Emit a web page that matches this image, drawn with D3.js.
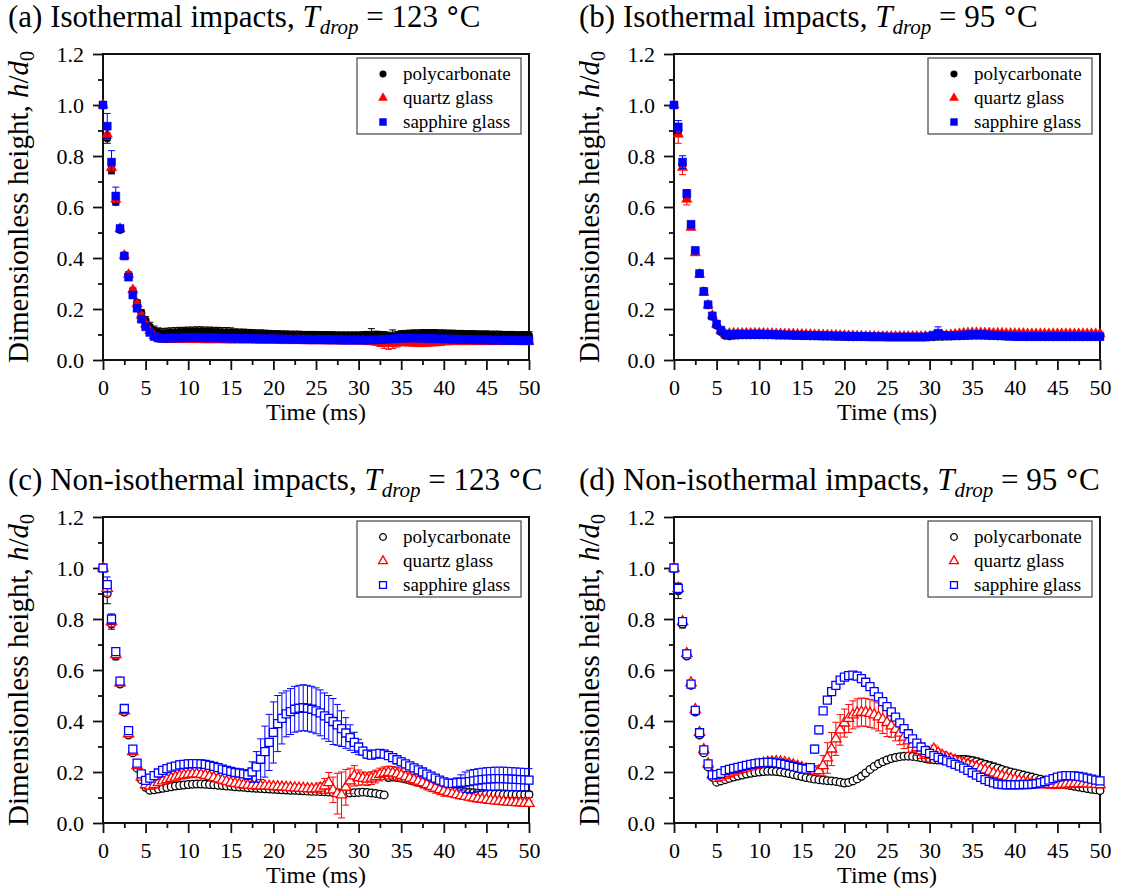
<!DOCTYPE html>
<html>
<head>
<meta charset="utf-8">
<script src="https://cdn.jsdelivr.net/npm/d3@7"></script>
<style>
  body { margin: 0; background: #fff; }
  svg { display: block; }
  text { font-family: "Liberation Serif", "Times New Roman", serif; fill: #000; }
</style>
</head>
<body>
<svg id="chart"></svg>
<script>
const width = 1121;
const height = 894;

// time grid (ms)
const time = [0,0.5,1,1.5,2,2.5,3,3.5,4,4.5,5,5.5,6,6.5,7,7.5,8,8.5,9,9.5,10,
  10.5,11,11.5,12,12.5,13,13.5,14,14.5,15,15.5,16,16.5,17,17.5,18,18.5,19,19.5,20,
  20.5,21,21.5,22,22.5,23,23.5,24,24.5,25,25.5,26,26.5,27,27.5,28,28.5,29,29.5,30,
  30.5,31,31.5,32,32.5,33,33.5,34,34.5,35,35.5,36,36.5,37,37.5,38,38.5,39,39.5,40,
  40.5,41,41.5,42,42.5,43,43.5,44,44.5,45,45.5,46,46.5,47,47.5,48,48.5,49,49.5,50];

const seriesNames = ["polycarbonate", "quartz glass", "sapphire glass"];
const seriesColors = ["#000000", "#ff0000", "#0000ff"];

const xMajorTicks = [0,5,10,15,20,25,30,35,40,45,50];
const xMinorTicks = [2.5,7.5,12.5,17.5,22.5,27.5,32.5,37.5,42.5,47.5];
const yMajorTicks = [0,0.2,0.4,0.6,0.8,1.0,1.2];
const yMinorTicks = [0.1,0.3,0.5,0.7,0.9,1.1];

// (a) isothermal, 123 C
const aPc = [1.0,0.87,0.745,0.62,0.51,0.41,0.335,0.27,0.225,0.185,0.155,
  0.13,0.115,0.108,0.105,0.107,0.108,0.109,0.11,0.11,0.111,
  0.111,0.112,0.112,0.111,0.111,0.11,0.11,0.109,0.109,0.108,
  0.107,0.106,0.106,0.105,0.104,0.103,0.103,0.102,0.101,0.1,
  0.1,0.099,0.099,0.098,0.098,0.098,0.097,0.097,0.097,0.097,
  0.096,0.096,0.096,0.096,0.095,0.095,0.095,0.095,0.095,0.095,
  0.096,0.097,0.098,0.098,0.097,0.096,0.094,0.093,0.096,0.1,
  0.101,0.102,0.103,0.103,0.104,0.104,0.104,0.104,0.103,0.103,
  0.102,0.102,0.101,0.101,0.1,0.1,0.1,0.099,0.099,0.099,
  0.098,0.098,0.098,0.097,0.097,0.097,0.096,0.096,0.096,0.096];
const aPcErr = [0,0.02,0.015,0.012,0.01,0.01,0.01,0.01,0.01,0.012,0.015,
  0.018,0.018,0.018,0.018,0.018,0.018,0.018,0.018,0.018,0.018,
  0.018,0.018,0.018,0.018,0.018,0.018,0.018,0.018,0.018,0.018,
  0.015,0.015,0.015,0.015,0.015,0.015,0.015,0.015,0.015,0.015,
  0.015,0.015,0.015,0.015,0.015,0.015,0.015,0.015,0.015,0.015,
  0.015,0.015,0.015,0.015,0.015,0.015,0.015,0.015,0.015,0.015,
  0.015,0.015,0.025,0.015,0.015,0.015,0.015,0.025,0.015,0.015,
  0.015,0.015,0.015,0.015,0.015,0.015,0.015,0.015,0.015,0.015,
  0.015,0.015,0.015,0.015,0.015,0.015,0.015,0.015,0.015,0.015,
  0.015,0.015,0.015,0.015,0.015,0.015,0.015,0.015,0.015,0.015];
const aQg = [1.0,0.885,0.755,0.63,0.515,0.41,0.335,0.275,0.22,0.175,0.14,
  0.115,0.095,0.085,0.08,0.08,0.08,0.08,0.08,0.08,0.08,
  0.08,0.08,0.08,0.079,0.079,0.079,0.079,0.079,0.078,0.078,
  0.078,0.078,0.078,0.078,0.078,0.077,0.077,0.077,0.077,0.077,
  0.077,0.076,0.076,0.076,0.076,0.076,0.076,0.075,0.075,0.075,
  0.075,0.075,0.075,0.074,0.074,0.074,0.074,0.074,0.074,0.074,
  0.073,0.072,0.071,0.07,0.068,0.066,0.064,0.065,0.066,0.068,
  0.067,0.066,0.065,0.064,0.064,0.065,0.066,0.067,0.068,0.07,
  0.071,0.072,0.072,0.072,0.072,0.072,0.072,0.072,0.072,0.072,
  0.072,0.072,0.072,0.072,0.072,0.072,0.072,0.072,0.072,0.072];
const aQgErr = [0,0.02,0.015,0.012,0.01,0.01,0.01,0.01,0.01,0.01,0.01,
  0.008,0.008,0.008,0.008,0.008,0.008,0.008,0.008,0.008,0.008,
  0.008,0.008,0.008,0.008,0.008,0.008,0.008,0.008,0.008,0.008,
  0.008,0.008,0.008,0.008,0.008,0.008,0.008,0.008,0.008,0.008,
  0.008,0.008,0.008,0.008,0.008,0.008,0.008,0.008,0.008,0.008,
  0.008,0.008,0.008,0.008,0.008,0.008,0.008,0.008,0.008,0.008,
  0.008,0.008,0.01,0.012,0.015,0.02,0.022,0.02,0.015,0.01,
  0.008,0.008,0.008,0.008,0.008,0.008,0.008,0.008,0.008,0.008,
  0.008,0.008,0.008,0.008,0.008,0.008,0.008,0.008,0.008,0.008,
  0.008,0.008,0.008,0.008,0.008,0.008,0.008,0.008,0.008,0.008];
const aSg = [1.0,0.917,0.776,0.643,0.516,0.408,0.325,0.255,0.203,0.16,0.13,
  0.108,0.092,0.086,0.085,0.085,0.086,0.086,0.087,0.087,0.088,
  0.088,0.088,0.088,0.087,0.087,0.087,0.086,0.086,0.086,0.085,
  0.085,0.085,0.084,0.084,0.084,0.084,0.083,0.083,0.083,0.083,
  0.082,0.082,0.082,0.081,0.081,0.081,0.08,0.08,0.08,0.08,
  0.08,0.079,0.079,0.079,0.079,0.078,0.078,0.078,0.078,0.078,
  0.078,0.078,0.079,0.079,0.08,0.081,0.082,0.083,0.084,0.085,
  0.086,0.086,0.086,0.086,0.085,0.085,0.084,0.084,0.083,0.083,
  0.082,0.082,0.081,0.081,0.08,0.08,0.08,0.079,0.079,0.079,
  0.078,0.078,0.078,0.077,0.077,0.077,0.077,0.076,0.076,0.076];
const aSgErr = [0,0.05,0.045,0.035,0.012,0.01,0.01,0.01,0.01,0.01,0.01,
  0.012,0.012,0.012,0.012,0.012,0.012,0.012,0.012,0.012,0.012,
  0.012,0.012,0.012,0.012,0.012,0.012,0.012,0.012,0.012,0.012,
  0.012,0.012,0.012,0.012,0.012,0.012,0.012,0.012,0.012,0.012,
  0.012,0.012,0.012,0.012,0.012,0.012,0.012,0.012,0.012,0.012,
  0.012,0.012,0.012,0.012,0.012,0.012,0.012,0.012,0.012,0.012,
  0.012,0.012,0.012,0.012,0.012,0.012,0.012,0.012,0.012,0.012,
  0.012,0.012,0.012,0.012,0.012,0.012,0.012,0.012,0.012,0.012,
  0.012,0.012,0.012,0.012,0.012,0.012,0.012,0.012,0.012,0.012,
  0.012,0.012,0.012,0.012,0.012,0.012,0.012,0.012,0.012,0.012];

// (b) isothermal, 95 C
const bPc = [1.0,0.9,0.765,0.64,0.525,0.425,0.34,0.27,0.215,0.17,0.135,
  0.11,0.095,0.093,0.095,0.096,0.097,0.097,0.097,0.097,0.097,
  0.097,0.097,0.097,0.096,0.096,0.096,0.096,0.095,0.095,0.094,
  0.094,0.093,0.093,0.093,0.092,0.092,0.092,0.091,0.091,0.091,
  0.09,0.09,0.09,0.09,0.09,0.09,0.09,0.09,0.09,0.09,
  0.09,0.09,0.09,0.09,0.09,0.09,0.09,0.09,0.09,0.09,
  0.09,0.091,0.091,0.092,0.092,0.093,0.093,0.094,0.094,0.095,
  0.095,0.095,0.095,0.094,0.094,0.093,0.093,0.092,0.092,0.091,
  0.091,0.091,0.09,0.09,0.09,0.09,0.09,0.09,0.09,0.09,
  0.09,0.09,0.09,0.09,0.09,0.09,0.09,0.09,0.09,0.09];
const bPcErr = [0,0.015,0.012,0.01,0.008,0.008,0.008,0.008,0.008,0.008,0.008,
  0.006,0.006,0.006,0.006,0.006,0.006,0.006,0.006,0.006,0.006,
  0.006,0.006,0.006,0.006,0.006,0.006,0.006,0.006,0.006,0.006,
  0.006,0.006,0.006,0.006,0.006,0.006,0.006,0.006,0.006,0.006,
  0.006,0.006,0.006,0.006,0.006,0.006,0.006,0.006,0.006,0.006,
  0.006,0.006,0.006,0.006,0.006,0.006,0.006,0.006,0.006,0.006,
  0.006,0.006,0.006,0.006,0.006,0.006,0.006,0.006,0.006,0.006,
  0.006,0.006,0.006,0.006,0.006,0.006,0.006,0.006,0.006,0.006,
  0.006,0.006,0.006,0.006,0.006,0.006,0.006,0.006,0.006,0.006,
  0.006,0.006,0.006,0.006,0.006,0.006,0.006,0.006,0.006,0.006];
const bQg = [1.0,0.885,0.755,0.63,0.52,0.42,0.335,0.265,0.215,0.175,0.14,
  0.115,0.102,0.104,0.105,0.105,0.105,0.105,0.105,0.105,0.105,
  0.105,0.104,0.104,0.103,0.103,0.102,0.102,0.102,0.101,0.101,
  0.1,0.1,0.099,0.099,0.098,0.098,0.097,0.097,0.096,0.096,
  0.095,0.095,0.094,0.094,0.093,0.093,0.093,0.092,0.092,0.092,
  0.092,0.092,0.092,0.092,0.092,0.092,0.092,0.092,0.093,0.093,
  0.094,0.095,0.096,0.097,0.099,0.101,0.103,0.105,0.106,0.107,
  0.107,0.107,0.106,0.106,0.105,0.105,0.105,0.104,0.104,0.104,
  0.104,0.104,0.103,0.103,0.103,0.103,0.103,0.103,0.103,0.103,
  0.103,0.103,0.103,0.103,0.103,0.103,0.103,0.103,0.103,0.103];
const bQgErr = [0,0.035,0.028,0.022,0.01,0.008,0.008,0.008,0.008,0.008,0.008,
  0.006,0.006,0.006,0.006,0.006,0.006,0.006,0.006,0.006,0.006,
  0.006,0.006,0.006,0.006,0.006,0.006,0.006,0.006,0.006,0.006,
  0.006,0.006,0.006,0.006,0.006,0.006,0.006,0.006,0.006,0.006,
  0.006,0.006,0.006,0.006,0.006,0.006,0.006,0.006,0.006,0.006,
  0.006,0.006,0.006,0.006,0.006,0.006,0.006,0.006,0.006,0.006,
  0.006,0.006,0.006,0.006,0.006,0.006,0.006,0.006,0.006,0.006,
  0.006,0.006,0.006,0.006,0.006,0.006,0.006,0.006,0.006,0.006,
  0.006,0.006,0.006,0.006,0.006,0.006,0.006,0.006,0.006,0.006,
  0.006,0.006,0.006,0.006,0.006,0.006,0.006,0.006,0.006,0.006];
const bSg = [1.0,0.914,0.776,0.653,0.532,0.43,0.339,0.269,0.217,0.173,0.141,
  0.117,0.102,0.1,0.101,0.101,0.101,0.101,0.101,0.101,0.101,
  0.101,0.1,0.1,0.099,0.099,0.098,0.098,0.097,0.097,0.097,
  0.096,0.096,0.096,0.095,0.095,0.095,0.094,0.094,0.094,0.093,
  0.093,0.093,0.092,0.092,0.092,0.091,0.091,0.091,0.091,0.09,
  0.09,0.09,0.09,0.09,0.09,0.09,0.09,0.09,0.09,0.092,
  0.097,0.105,0.097,0.095,0.095,0.096,0.097,0.098,0.099,0.1,
  0.1,0.1,0.099,0.098,0.097,0.096,0.095,0.094,0.093,0.093,
  0.092,0.092,0.092,0.092,0.092,0.092,0.092,0.092,0.092,0.092,
  0.092,0.092,0.092,0.092,0.092,0.092,0.092,0.092,0.092,0.092];
const bSgErr = [0,0.025,0.025,0.015,0.012,0.01,0.008,0.008,0.008,0.008,0.008,
  0.008,0.008,0.008,0.008,0.008,0.008,0.008,0.008,0.008,0.008,
  0.008,0.008,0.008,0.008,0.008,0.008,0.008,0.008,0.008,0.008,
  0.008,0.008,0.008,0.008,0.008,0.008,0.008,0.008,0.008,0.008,
  0.008,0.008,0.008,0.008,0.008,0.008,0.008,0.008,0.008,0.008,
  0.008,0.008,0.008,0.008,0.008,0.008,0.008,0.008,0.008,0.008,
  0.012,0.025,0.012,0.008,0.008,0.008,0.008,0.008,0.008,0.008,
  0.008,0.008,0.008,0.008,0.008,0.008,0.008,0.008,0.008,0.008,
  0.008,0.008,0.008,0.008,0.008,0.008,0.008,0.008,0.008,0.008,
  0.008,0.008,0.008,0.008,0.008,0.008,0.008,0.008,0.008,0.008];

// (c) non-isothermal, 123 C
const cPc = [1.0,0.9,0.78,0.655,0.545,0.435,0.345,0.275,0.215,0.17,0.14,
  0.128,0.13,0.133,0.136,0.139,0.142,0.145,0.147,0.149,0.151,
  0.152,0.153,0.153,0.152,0.151,0.15,0.148,0.147,0.145,0.144,
  0.142,0.141,0.14,0.138,0.137,0.136,0.135,0.134,0.133,0.132,
  0.131,0.13,0.129,0.128,0.128,0.127,0.126,0.125,0.124,0.124,
  0.123,0.122,0.121,0.12,0.119,0.118,0.118,0.118,0.119,0.12,
  0.121,0.12,0.118,0.116,0.113,0.11,0.178,0.18,0.178,0.176,
  0.172,0.168,0.164,0.16,0.155,0.15,0.146,0.142,0.139,0.136,
  0.133,0.13,0.127,0.125,0.123,0.12,0.119,0.117,0.116,0.115,
  0.114,0.113,0.113,0.112,0.112,0.112,0.112,0.112,0.112,0.112];
const cPcErr = [0,0.04,0.02,0.015,0.01,0.01,0.008,0.008,0.008,0.008,0.008,
  0.006,0.006,0.006,0.006,0.006,0.006,0.006,0.006,0.006,0.006,
  0.006,0.006,0.006,0.006,0.006,0.006,0.006,0.006,0.006,0.006,
  0.006,0.006,0.006,0.006,0.006,0.006,0.006,0.006,0.006,0.006,
  0.006,0.006,0.006,0.006,0.006,0.006,0.006,0.006,0.006,0.006,
  0.006,0.006,0.006,0.006,0.006,0.006,0.006,0.006,0.006,0.006,
  0.006,0.006,0.006,0.006,0.006,0.006,0.012,0.012,0.012,0.012,
  0.012,0.012,0.012,0.012,0.012,0.012,0.012,0.012,0.012,0.012,
  0.012,0.012,0.012,0.012,0.012,0.012,0.012,0.012,0.012,0.012,
  0.012,0.012,0.012,0.012,0.012,0.012,0.012,0.012,0.012,0.012];
const cQg = [1.0,0.92,0.79,0.66,0.55,0.44,0.35,0.28,0.225,0.18,0.15,
  0.145,0.15,0.158,0.165,0.17,0.175,0.18,0.185,0.188,0.19,
  0.192,0.192,0.19,0.187,0.183,0.178,0.173,0.168,0.163,0.158,
  0.155,0.152,0.15,0.148,0.147,0.146,0.145,0.145,0.144,0.143,
  0.142,0.141,0.14,0.139,0.138,0.137,0.136,0.135,0.134,0.134,
  0.137,0.145,0.158,0.13,0.115,0.11,0.14,0.165,0.185,0.178,
  0.175,0.172,0.176,0.182,0.19,0.195,0.198,0.196,0.192,0.187,
  0.182,0.176,0.17,0.164,0.158,0.15,0.143,0.137,0.131,0.125,
  0.12,0.115,0.111,0.107,0.104,0.101,0.098,0.095,0.093,0.091,
  0.089,0.087,0.086,0.084,0.082,0.081,0.08,0.079,0.078,0.077];
const cQgErr = [0,0.03,0.02,0.015,0.01,0.01,0.01,0.01,0.01,0.01,0.012,
  0.012,0.012,0.012,0.012,0.012,0.012,0.012,0.012,0.012,0.012,
  0.012,0.012,0.012,0.012,0.012,0.012,0.012,0.012,0.012,0.012,
  0.012,0.012,0.012,0.012,0.012,0.012,0.012,0.012,0.012,0.012,
  0.012,0.012,0.012,0.012,0.012,0.012,0.012,0.012,0.012,0.012,
  0.02,0.03,0.04,0.05,0.08,0.09,0.07,0.05,0.04,0.03,
  0.025,0.025,0.025,0.025,0.025,0.025,0.025,0.025,0.025,0.025,
  0.02,0.02,0.02,0.02,0.02,0.02,0.02,0.02,0.02,0.02,
  0.012,0.012,0.012,0.012,0.012,0.012,0.012,0.012,0.012,0.012,
  0.012,0.012,0.012,0.012,0.012,0.012,0.012,0.012,0.012,0.012];
const cSg = [1.0,0.935,0.8,0.672,0.556,0.449,0.362,0.29,0.235,0.193,0.167,
  0.176,0.186,0.196,0.206,0.213,0.219,0.223,0.228,0.23,0.232,
  0.233,0.233,0.232,0.23,0.226,0.222,0.217,0.211,0.206,0.202,
  0.198,0.196,0.193,0.19,0.2,0.22,0.25,0.28,0.316,0.355,
  0.39,0.41,0.428,0.437,0.446,0.45,0.452,0.45,0.446,0.44,
  0.432,0.42,0.41,0.398,0.385,0.37,0.353,0.335,0.316,0.298,
  0.282,0.27,0.266,0.27,0.273,0.27,0.264,0.256,0.248,0.24,
  0.232,0.224,0.216,0.208,0.2,0.192,0.184,0.176,0.168,0.161,
  0.156,0.155,0.157,0.159,0.16,0.162,0.165,0.168,0.17,0.172,
  0.173,0.174,0.174,0.174,0.173,0.172,0.171,0.17,0.169,0.168];
const cSgErr = [0,0.03,0.02,0.015,0.012,0.01,0.01,0.01,0.01,0.01,0.012,
  0.012,0.012,0.012,0.012,0.012,0.012,0.012,0.015,0.015,0.015,
  0.015,0.015,0.015,0.015,0.015,0.015,0.015,0.015,0.015,0.015,
  0.015,0.015,0.015,0.02,0.04,0.06,0.08,0.1,0.11,0.12,
  0.11,0.1,0.09,0.09,0.09,0.09,0.09,0.09,0.09,0.09,
  0.09,0.09,0.09,0.09,0.08,0.07,0.06,0.05,0.04,0.03,
  0.015,0.015,0.015,0.015,0.015,0.015,0.015,0.015,0.015,0.015,
  0.012,0.012,0.012,0.012,0.012,0.012,0.012,0.012,0.012,0.012,
  0.012,0.012,0.02,0.03,0.04,0.045,0.045,0.045,0.045,0.045,
  0.045,0.045,0.045,0.045,0.045,0.045,0.045,0.045,0.045,0.045];

// (d) non-isothermal, 95 C
const dPc = [1.0,0.91,0.78,0.655,0.54,0.435,0.345,0.275,0.22,0.18,0.16,
  0.165,0.17,0.175,0.18,0.184,0.188,0.192,0.195,0.198,0.2,
  0.202,0.203,0.203,0.202,0.2,0.197,0.194,0.19,0.186,0.182,
  0.178,0.175,0.172,0.17,0.168,0.166,0.165,0.163,0.16,0.157,
  0.159,0.165,0.173,0.183,0.196,0.21,0.222,0.232,0.24,0.247,
  0.253,0.257,0.26,0.262,0.262,0.261,0.259,0.256,0.253,0.25,
  0.248,0.247,0.246,0.246,0.247,0.248,0.249,0.249,0.247,0.244,
  0.24,0.235,0.23,0.225,0.22,0.215,0.21,0.205,0.2,0.196,
  0.192,0.188,0.184,0.18,0.176,0.172,0.168,0.164,0.16,0.156,
  0.153,0.15,0.147,0.144,0.141,0.138,0.135,0.132,0.13,0.127];
const dPcErr = [0,0.03,0.015,0.01,0.008,0.008,0.008,0.008,0.008,0.008,0.008,
  0.008,0.008,0.008,0.008,0.008,0.008,0.008,0.008,0.008,0.008,
  0.008,0.008,0.008,0.008,0.008,0.008,0.008,0.008,0.008,0.008,
  0.008,0.008,0.008,0.008,0.008,0.008,0.008,0.008,0.008,0.008,
  0.008,0.008,0.008,0.008,0.008,0.008,0.008,0.008,0.008,0.008,
  0.008,0.008,0.008,0.008,0.008,0.008,0.008,0.008,0.008,0.008,
  0.008,0.008,0.008,0.008,0.008,0.015,0.015,0.015,0.015,0.015,
  0.015,0.015,0.015,0.015,0.015,0.015,0.008,0.008,0.008,0.008,
  0.008,0.008,0.008,0.008,0.008,0.008,0.008,0.008,0.008,0.008,
  0.008,0.008,0.008,0.008,0.008,0.008,0.008,0.008,0.008,0.008];
const dQg = [1.0,0.92,0.79,0.665,0.55,0.445,0.355,0.288,0.232,0.19,0.175,
  0.18,0.187,0.193,0.2,0.205,0.21,0.215,0.22,0.225,0.23,
  0.235,0.238,0.24,0.241,0.24,0.237,0.233,0.228,0.223,0.218,
  0.213,0.208,0.204,0.205,0.225,0.255,0.29,0.33,0.365,0.392,
  0.41,0.424,0.432,0.435,0.434,0.43,0.424,0.416,0.406,0.394,
  0.381,0.367,0.352,0.337,0.322,0.308,0.295,0.283,0.272,0.265,
  0.29,0.275,0.265,0.258,0.252,0.246,0.24,0.235,0.23,0.225,
  0.22,0.214,0.208,0.202,0.196,0.19,0.185,0.18,0.175,0.171,
  0.167,0.163,0.16,0.157,0.155,0.153,0.152,0.151,0.15,0.15,
  0.151,0.152,0.153,0.154,0.154,0.154,0.153,0.152,0.151,0.15];
const dQgErr = [0,0.02,0.015,0.012,0.01,0.01,0.01,0.01,0.01,0.01,0.01,
  0.01,0.01,0.01,0.01,0.01,0.01,0.01,0.01,0.01,0.01,
  0.01,0.01,0.01,0.01,0.01,0.01,0.01,0.01,0.01,0.01,
  0.01,0.01,0.015,0.02,0.04,0.06,0.065,0.065,0.06,0.055,
  0.055,0.055,0.055,0.055,0.055,0.055,0.055,0.055,0.055,0.055,
  0.045,0.045,0.045,0.045,0.045,0.03,0.03,0.03,0.03,0.03,
  0.015,0.015,0.015,0.015,0.015,0.015,0.015,0.015,0.015,0.015,
  0.01,0.01,0.01,0.01,0.01,0.01,0.01,0.01,0.01,0.01,
  0.01,0.01,0.01,0.01,0.01,0.015,0.015,0.015,0.015,0.015,
  0.015,0.015,0.015,0.015,0.015,0.012,0.012,0.012,0.012,0.012];
const dSg = [1.0,0.92,0.79,0.663,0.545,0.442,0.354,0.287,0.232,0.189,0.19,
  0.195,0.205,0.21,0.214,0.218,0.222,0.226,0.23,0.233,0.236,
  0.237,0.238,0.238,0.236,0.233,0.23,0.226,0.222,0.218,0.214,
  0.211,0.217,0.29,0.365,0.44,0.482,0.515,0.54,0.56,0.572,
  0.578,0.58,0.576,0.566,0.552,0.535,0.515,0.495,0.476,0.456,
  0.436,0.415,0.393,0.37,0.35,0.33,0.313,0.298,0.284,0.273,
  0.264,0.257,0.25,0.244,0.237,0.23,0.223,0.215,0.206,0.197,
  0.188,0.179,0.17,0.163,0.157,0.153,0.151,0.15,0.15,0.15,
  0.15,0.151,0.151,0.152,0.154,0.157,0.162,0.168,0.174,0.18,
  0.184,0.186,0.186,0.185,0.183,0.18,0.176,0.172,0.168,0.165];
const dSgErr = [0,0.02,0.015,0.01,0.008,0.008,0.008,0.008,0.008,0.008,0.008,
  0.008,0.008,0.008,0.008,0.008,0.008,0.008,0.008,0.008,0.008,
  0.008,0.008,0.008,0.008,0.008,0.008,0.008,0.008,0.008,0.008,
  0.008,0.008,0.015,0.015,0.01,0.008,0.008,0.008,0.008,0.008,
  0.008,0.008,0.008,0.008,0.008,0.008,0.008,0.008,0.008,0.008,
  0.008,0.008,0.008,0.008,0.008,0.008,0.008,0.008,0.008,0.008,
  0.008,0.008,0.008,0.008,0.008,0.008,0.008,0.008,0.008,0.008,
  0.008,0.008,0.008,0.008,0.008,0.008,0.008,0.008,0.008,0.008,
  0.008,0.008,0.008,0.008,0.008,0.008,0.008,0.008,0.008,0.008,
  0.008,0.008,0.008,0.008,0.008,0.008,0.008,0.008,0.008,0.008];

const panels = [
  {tag: "(a) Isothermal impacts, ", temp: "123", open: false, left: 103, top: 54,
   series: [[aPc, aPcErr], [aQg, aQgErr], [aSg, aSgErr]]},
  {tag: "(b) Isothermal impacts, ", temp: "95", open: false, left: 674, top: 54,
   series: [[bPc, bPcErr], [bQg, bQgErr], [bSg, bSgErr]]},
  {tag: "(c) Non-isothermal impacts, ", temp: "123", open: true, left: 103, top: 517,
   series: [[cPc, cPcErr], [cQg, cQgErr], [cSg, cSgErr]]},
  {tag: "(d) Non-isothermal impacts, ", temp: "95", open: true, left: 674, top: 517,
   series: [[dPc, dPcErr], [dQg, dQgErr], [dSg, dSgErr]]}
];

const plotW = 426;
const plotH = 306;
const symbolTypes = [d3.symbolCircle, d3.symbolTriangle, d3.symbolSquare];
const symbolSizes = [46, 46, 64];

const svg = d3.select('#chart')
    .attr('width', width)
    .attr('height', height);

panels.forEach(p => {
    const g = svg.append("g").attr("transform", `translate(${p.left},${p.top})`);

    const x = d3.scaleLinear().domain([0, 50]).range([0, plotW]);
    const y = d3.scaleLinear().domain([0, 1.2]).range([plotH, 0]);

    // title
    const title = g.append("text")
        .attr("x", -95)
        .attr("y", -27)
        .attr("font-size", 31);
    title.append("tspan").text(p.tag);
    title.append("tspan").attr("font-style", "italic").text("T");
    title.append("tspan").attr("font-style", "italic").attr("font-size", 21).attr("dy", 7).text("drop");
    title.append("tspan").attr("dy", -7).text(" = " + p.temp + " ");
    title.append("tspan").attr("font-family", "DejaVu Sans").attr("font-size", 28).text("°");
    title.append("tspan").text("C");

    // axes
    const xAxis = g.append("g")
        .attr("transform", `translate(0,${plotH})`)
        .call(d3.axisBottom(x).tickValues(xMajorTicks).tickSize(10).tickSizeOuter(0)
            .tickPadding(9).tickFormat(d3.format("d")));
    g.append("g")
        .attr("transform", `translate(0,${plotH})`)
        .call(d3.axisBottom(x).tickValues(xMinorTicks).tickSize(5).tickFormat(""))
        .call(s => s.select(".domain").remove());
    const yAxis = g.append("g")
        .call(d3.axisLeft(y).tickValues(yMajorTicks).tickSize(10).tickSizeOuter(0)
            .tickPadding(9).tickFormat(d3.format(".1f")));
    g.append("g")
        .call(d3.axisLeft(y).tickValues(yMinorTicks).tickSize(5).tickFormat(""))
        .call(s => s.select(".domain").remove());

    g.selectAll(".tick line").attr("stroke", "#111").attr("stroke-width", 1.8);
    g.selectAll(".domain").remove();
    [xAxis, yAxis].forEach(a => a.selectAll("text")
        .attr("font-size", 22)
        .attr("fill", "#000"));

    // frame
    g.append("rect")
        .attr("width", plotW)
        .attr("height", plotH)
        .attr("fill", "none")
        .attr("stroke", "#111")
        .attr("stroke-width", 2);

    // axis labels
    g.append("text")
        .attr("x", plotW / 2)
        .attr("y", plotH + 60)
        .attr("text-anchor", "middle")
        .attr("font-size", 24)
        .text("Time (ms)");

    const yl = g.append("text")
        .attr("transform", `translate(-75,${plotH / 2}) rotate(-90)`)
        .attr("text-anchor", "middle")
        .attr("font-size", 29);
    yl.append("tspan").text("Dimensionless height, ");
    yl.append("tspan").attr("font-style", "italic").text("h");
    yl.append("tspan").text("/");
    yl.append("tspan").attr("font-style", "italic").text("d");
    yl.append("tspan").attr("font-size", 20).attr("dy", 6).text("0");

    // data
    p.series.forEach((s, k) => {
        const color = seriesColors[k];
        const pts = s[0].map((v, i) => ({t: time[i], v: v, e: s[1][i]}));
        const sg = g.append("g");

        const bars = sg.selectAll("g.err")
            .data(pts.filter(d => d.e > 0))
            .join("g")
            .attr("class", "err")
            .attr("stroke", color)
            .attr("stroke-width", 1);
        bars.append("line")
            .attr("x1", d => x(d.t)).attr("x2", d => x(d.t))
            .attr("y1", d => y(d.v + d.e)).attr("y2", d => y(d.v - d.e));
        bars.append("line")
            .attr("x1", d => x(d.t) - 3.5).attr("x2", d => x(d.t) + 3.5)
            .attr("y1", d => y(d.v + d.e)).attr("y2", d => y(d.v + d.e));
        bars.append("line")
            .attr("x1", d => x(d.t) - 3.5).attr("x2", d => x(d.t) + 3.5)
            .attr("y1", d => y(d.v - d.e)).attr("y2", d => y(d.v - d.e));

        sg.selectAll("path.mk")
            .data(pts)
            .join("path")
            .attr("class", "mk")
            .attr("transform", d => `translate(${x(d.t)},${y(d.v)})`)
            .attr("d", d3.symbol().type(symbolTypes[k]).size(symbolSizes[k]))
            .attr("fill", p.open ? "#fff" : color)
            .attr("stroke", color)
            .attr("stroke-width", p.open ? 1.3 : 0.5);
    });

    // legend
    const lg = g.append("g").attr("transform", `translate(${plotW - 172},4)`);
    lg.append("rect")
        .attr("width", 164)
        .attr("height", 76)
        .attr("fill", "#fff")
        .attr("stroke", "#444")
        .attr("stroke-width", 1.2);
    seriesNames.forEach((name, k) => {
        const ry = 16 + k * 24;
        lg.append("path")
            .attr("transform", `translate(26,${ry})`)
            .attr("d", d3.symbol().type(symbolTypes[k]).size(symbolSizes[k] * 0.75)())
            .attr("fill", p.open ? "#fff" : seriesColors[k])
            .attr("stroke", seriesColors[k])
            .attr("stroke-width", p.open ? 1.3 : 0.5);
        lg.append("text")
            .attr("x", 46)
            .attr("y", ry + 6)
            .attr("font-size", 19)
            .attr("fill", seriesColors[k])
            .text(name);
    });
});
</script>
</body>
</html>
